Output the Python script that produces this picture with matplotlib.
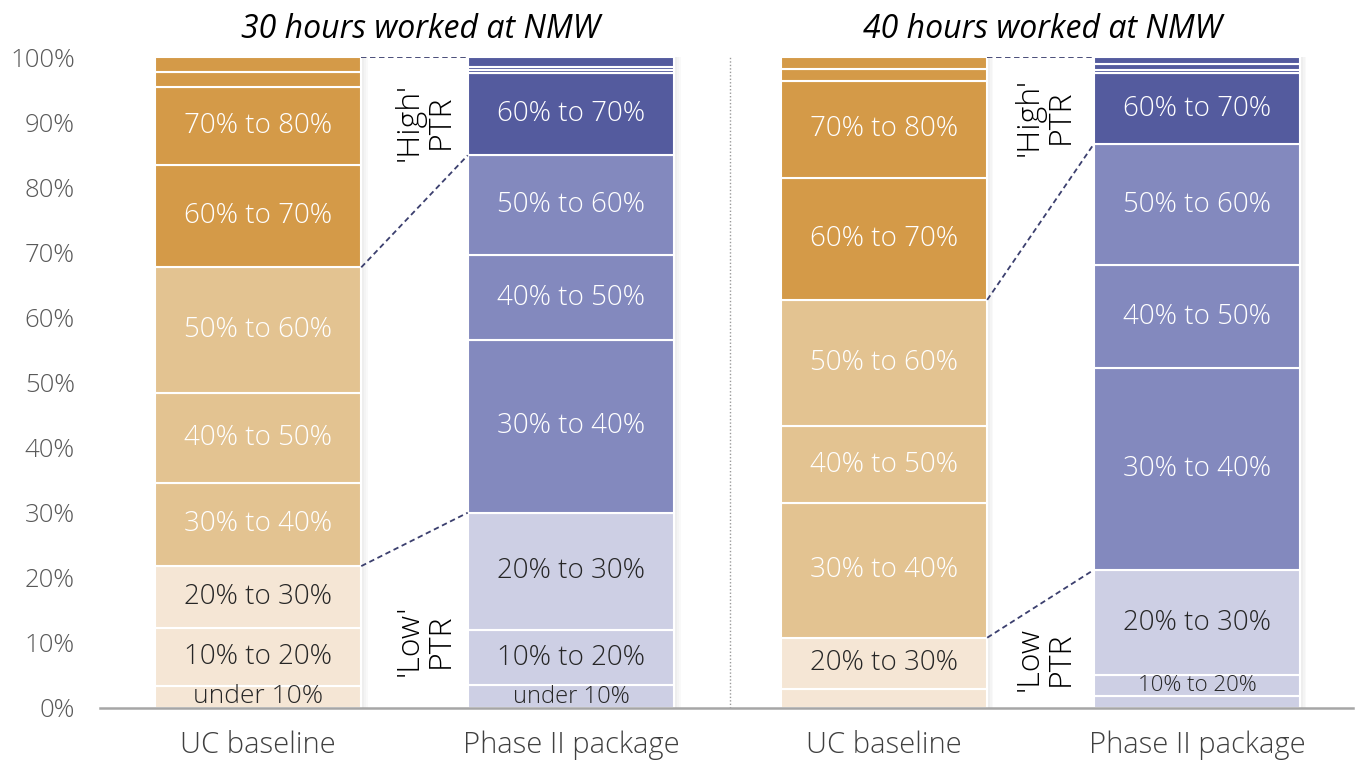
import numpy as np
import matplotlib.pyplot as plt
import matplotlib.transforms as mtransforms

plt.rcParams['font.family'] = ['Open Sans', 'DejaVu Sans']

# data: share of claimants (%) in each PTR band, bottom to top
bands = ['under 10%', '10% to 20%', '20% to 30%', '30% to 40%', '40% to 50%',
         '50% to 60%', '60% to 70%', '70% to 80%', '80% to 90%', '90% +']
bar_names = ['UC baseline', 'Phase II package', 'UC baseline', 'Phase II package']
uc_30h = [3.4, 8.9, 9.5, 12.8, 13.8, 19.3, 15.7, 12.0, 2.3, 2.3]
ph2_30h = [3.5, 8.5, 18.0, 26.5, 13.1, 15.3, 12.6, 0.5, 0.4, 1.6]
uc_40h = [0.0, 2.9, 7.9, 20.7, 11.8, 19.4, 18.7, 15.0, 1.8, 1.8]
ph2_40h = [1.8, 3.2, 16.2, 31.0, 15.8, 18.6, 10.9, 0.5, 0.9, 1.1]
titles = ['30 hours worked at NMW', '40 hours worked at NMW']

# which bands get a text label on each bar
shown = [range(0, 8), range(0, 7), range(2, 8), range(1, 7)]
sizes = {(0, 0): 19, (1, 0): 17, (3, 1): 16}

orange = ['#F5E6D5'] * 3 + ['#E3C391'] * 3 + ['#D49A48'] * 4
blue = ['#CDCFE4'] * 3 + ['#8389BE'] * 3 + ['#545B9E'] * 4
txt_col = ['#262626'] * 3 + ['white'] * 7

fig = plt.figure(figsize=(13.58, 7.64), dpi=100)
ax = fig.add_axes([0.0736, 0.0733, 0.9230, 0.852])

x = np.arange(4)
w = 0.66
series = [uc_30h, ph2_30h, uc_40h, ph2_40h]
palettes = [orange, blue, orange, blue]

for i, vals in enumerate(series):
    # soft shadow
    for k, a in enumerate([0.04, 0.04, 0.05]):
        ax.bar(x[i] + 0.01, 1.0, width=w + 0.02 - k * 0.01, color='#7f7f7f',
               alpha=a, linewidth=0, zorder=1)
    bottom = 0.0
    for j, v in enumerate(vals):
        h = v / 100
        if h > 0:
            ax.bar(x[i], h, width=w, bottom=bottom, color=palettes[i][j],
                   edgecolor='white', linewidth=1.5, zorder=2)
            if j in shown[i]:
                ax.text(x[i], bottom + h / 2, bands[j], ha='center', va='center',
                        fontsize=sizes.get((i, j), 20), color=txt_col[j],
                        fontweight=300, zorder=3)
        bottom += h

# connector lines between baseline and package
def cum(vals, n):
    return sum(vals[:n]) / 100

link = dict(color='#3B3F6E', linestyle=(0, (3, 2)), linewidth=1.3, zorder=3)
for a, b in [(0, 1), (2, 3)]:
    xa, xb = x[a] + w / 2, x[b] - w / 2
    ax.plot([xa, xb], [1.0, 1.0], **link)
    ax.plot([xa, xb], [cum(series[a], 6), cum(series[b], 6)], **link)
    ax.plot([xa, xb], [cum(series[a], 3), cum(series[b], 3)], **link)

ptr = dict(rotation=90, ha='center', va='center', fontsize=23,
           linespacing=0.95, color='black', fontweight=300)
ax.text(0.535, 0.9, "'High'\nPTR", **ptr)
ax.text(0.535, 0.104, "'Low'\nPTR", **ptr)
ax.text(2.515, 0.908, "'High'\nPTR", **ptr)
ax.text(2.515, 0.075, "'Low\nPTR", **ptr)

# panel separator
ax.axvline(1.508, color='#9a9a9a', linestyle=(0, (1, 1.5)), linewidth=1, zorder=1)

trans = mtransforms.blended_transform_factory(ax.transData, ax.transAxes)
ax.text(0.518, 1.043, titles[0], transform=trans, ha='center', va='center',
        fontsize=23, fontstyle='italic', color='black')
ax.text(2.505, 1.043, titles[1], transform=trans, ha='center', va='center',
        fontsize=23, fontstyle='italic', color='black')

ax.set_xlim(-0.505, 3.5)
ax.set_ylim(0, 1)
ax.set_xticks(x)
ax.set_xticklabels(bar_names, fontsize=21, color='#404040', fontweight=300)
ax.set_yticks(np.arange(0, 1.01, 0.1))
ax.set_yticklabels([f'{v}%' for v in range(0, 101, 10)], fontsize=18.5,
                   color='#595959', fontweight=300)
ax.tick_params(axis='both', length=0)
ax.tick_params(axis='y', pad=18)
ax.tick_params(axis='x', pad=16)
for s in ['top', 'right', 'left']:
    ax.spines[s].set_visible(False)
ax.spines['bottom'].set_color('#A6A6A6')
ax.spines['bottom'].set_linewidth(1.8)
ax.spines['bottom'].set_zorder(4)

fig.savefig('out.png', dpi=100)
